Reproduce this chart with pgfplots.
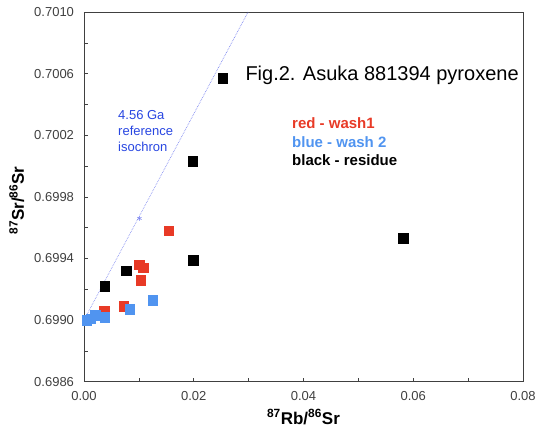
\documentclass[border=0pt]{standalone}
\usepackage{fontspec}
\setmainfont{Liberation Sans}
\usepackage{pgfplots}
\pgfplotsset{compat=1.18}
\definecolor{mred}{RGB}{232,58,38}
\definecolor{mblue}{RGB}{80,148,240}
\definecolor{isoblue}{RGB}{120,130,240}
\definecolor{isotext}{RGB}{40,70,225}
\begin{document}
\begin{tikzpicture}
\begin{axis}[
  scale only axis, width=439pt, height=369.7pt,
  xmin=0, xmax=0.08, ymin=0.6986, ymax=0.7010,
  xtick={0,0.02,0.04,0.06,0.08},
  ytick={0.6986,0.6990,0.6994,0.6998,0.7002,0.7006,0.7010},
  minor xtick={0.01,0.03,0.05,0.07},
  minor ytick={0.6988,0.6992,0.6996,0.7000,0.7004,0.7008},
  scaled x ticks=false, scaled y ticks=false,
  xtick pos=bottom, ytick pos=left, tick align=inside,
  major tick length=4pt, minor tick length=4pt,
  axis line style={black!75, line width=0.8pt},
  every tick/.style={black!75, line width=0.6pt},
  /pgf/number format/assume math mode=true,
  xticklabel style={/pgf/number format/.cd, fixed, fixed zerofill, precision=2, /tikz/.cd, font=\fontsize{13}{13}\selectfont, text=black!75, yshift=-6pt},
  yticklabel style={/pgf/number format/.cd, fixed, fixed zerofill, precision=4, /tikz/.cd, font=\fontsize{13}{13}\selectfont, text=black!75, xshift=-6.5pt},
  xlabel={\textbf{\textsuperscript{87}Rb/\textsuperscript{86}Sr}},
  ylabel={\textbf{\textsuperscript{87}Sr/\textsuperscript{86}Sr}},
  xlabel style={font=\fontsize{17}{17}\selectfont, at={(axis description cs:0.5,-0.0955)}, anchor=center},
  ylabel style={font=\fontsize{17}{17}\selectfont, at={(axis description cs:-0.153,0.49)}, anchor=center, rotate=0},
  clip=false,
]
% reference isochron
\addplot[isoblue, densely dotted, line width=0.7pt] coordinates {(0,0.69900) (0.0299,0.7010)};
\addplot[isoblue, only marks, mark=asterisk, mark size=2.5pt, mark options={line width=0.5pt}] coordinates {(0.0101,0.69966)};
% red - wash1
\addplot[only marks, mark=square*, mark size=4.8pt, color=mred] coordinates {
(0.0154,0.69958) (0.0101,0.69936) (0.0108,0.69934) (0.0103,0.69926) (0.0072,0.69909) (0.0037,0.69906)};
% blue - wash 2
\addplot[only marks, mark=square*, mark size=4.8pt, color=mblue] coordinates {
(0.0125,0.69913) (0.0083,0.69907) (0.0038,0.69902) (0.0020,0.69903) (0.0012,0.69901) (0.0005,0.69900)};
% black - residue
\addplot[only marks, mark=square*, mark size=4.8pt, color=black] coordinates {
(0.0253,0.70057) (0.0198,0.70003) (0.0199,0.69939) (0.0077,0.69932) (0.0038,0.69922) (0.0582,0.69953)};
% annotations
\node[anchor=west, font=\fontsize{20}{20}\selectfont, inner sep=0pt] at (axis cs:0.0294,0.70059) {Fig.2. Asuka 881394 pyroxene};
\node[anchor=west, align=left, text=isotext, font=\fontsize{13}{16}\selectfont, inner sep=0pt] at (axis cs:0.0062,0.70023) {4.56 Ga\\reference\\isochron};
\node[anchor=west, text=mred, font=\bfseries\fontsize{15}{15}\selectfont, inner sep=0pt] at (axis cs:0.0379,0.700277) {red - wash1};
\node[anchor=west, text=mblue, font=\bfseries\fontsize{15}{15}\selectfont, inner sep=0pt] at (axis cs:0.0379,0.700158) {blue - wash 2};
\node[anchor=west, text=black, font=\bfseries\fontsize{15}{15}\selectfont, inner sep=0pt] at (axis cs:0.0379,0.700039) {black - residue};
\end{axis}
\pgfresetboundingbox
\path (-84pt,-51.3pt) rectangle (452pt,381.7pt);
\end{tikzpicture}
\end{document}
